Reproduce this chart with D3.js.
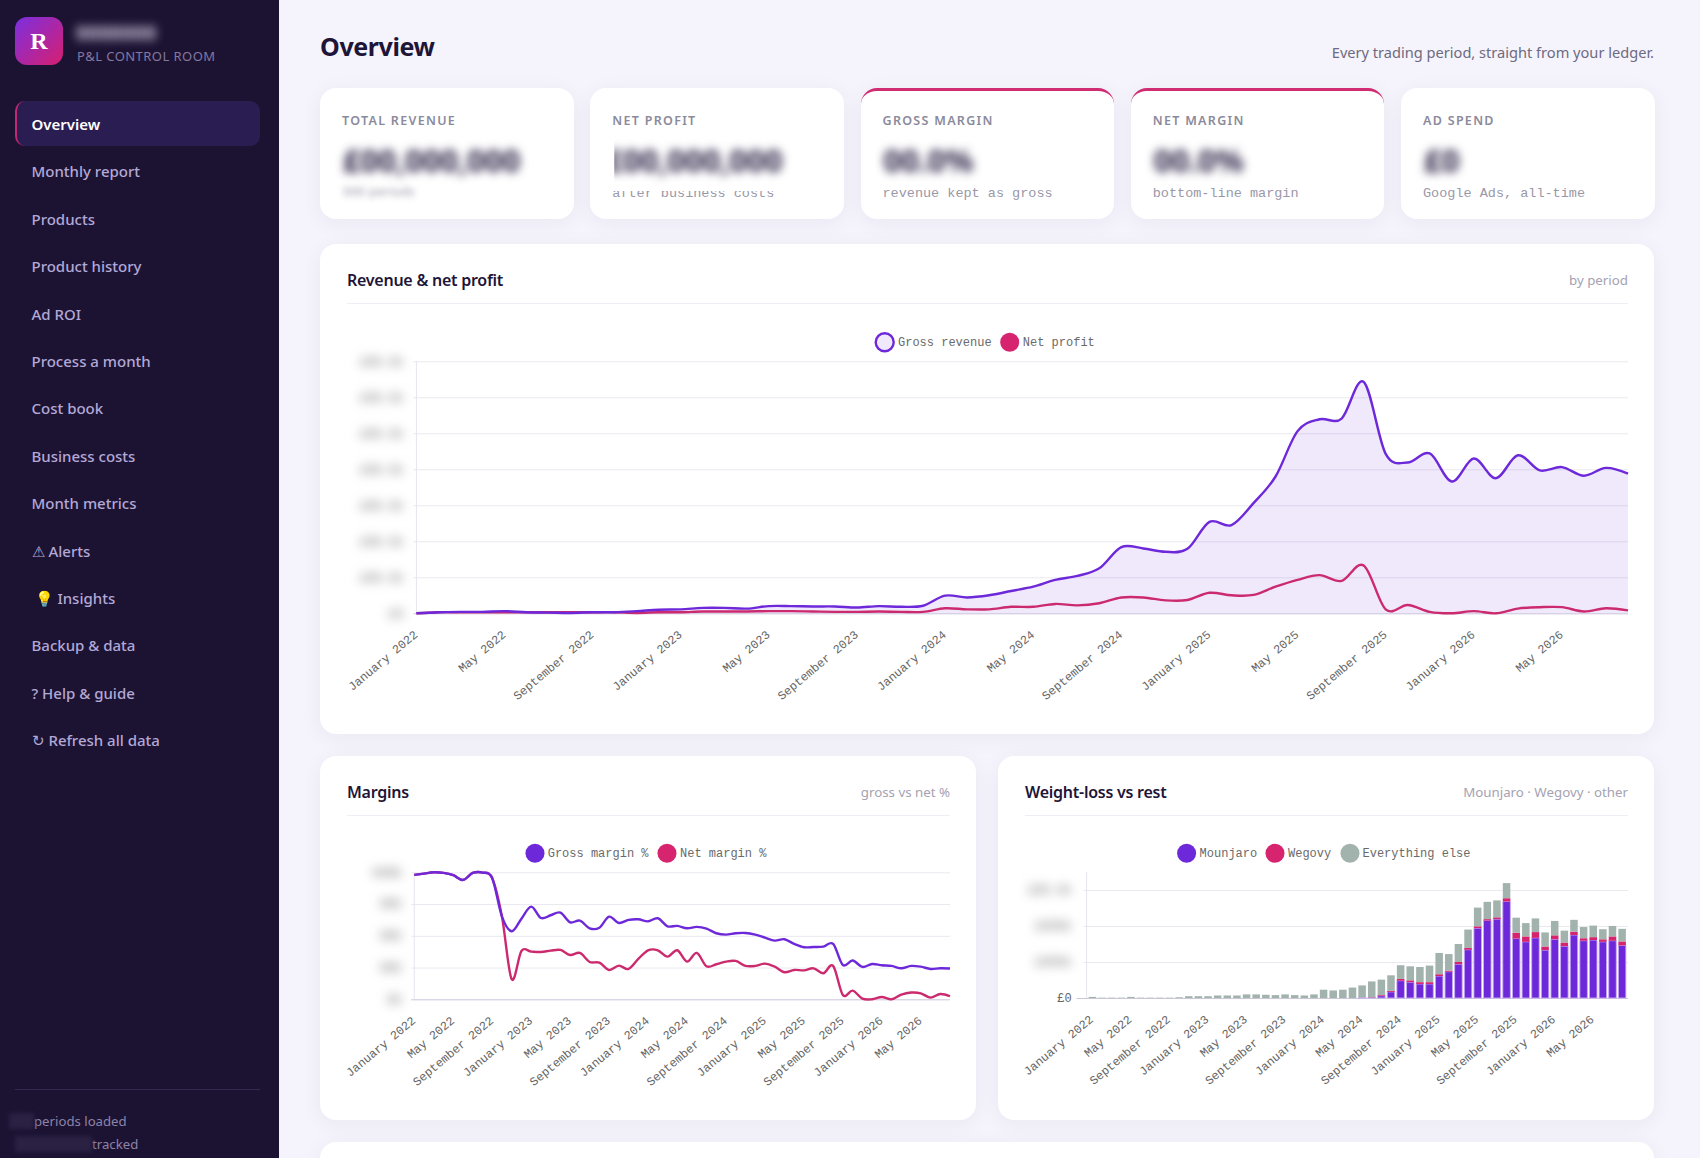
<!DOCTYPE html>
<html><head><meta charset="utf-8"><title>Overview</title>
<script src="https://cdn.jsdelivr.net/npm/d3@7"></script>
<style>
*{box-sizing:border-box}
html,body{margin:0;height:1158px;overflow:hidden;background:#f5f4fc;font-family:'Noto Sans',sans-serif;color:#1e1538}
#side{position:absolute;left:0;top:0;width:279px;height:1158px;background:#1c1333}
.logo{position:absolute;left:15px;top:17px;width:48px;height:48px;border-radius:12px;background:linear-gradient(135deg,#7b2fe0,#d81f6f);color:#fff;font:700 24px/48px 'Liberation Serif',serif;text-align:center}
.brand{position:absolute;left:76px;top:19px;font-size:20px;line-height:27px;font-weight:700;color:#cfc9dd;filter:blur(5px)}
.tag{position:absolute;left:77px;top:47px;font-size:13px;letter-spacing:.45px;color:#8378a0;line-height:18px}
.nav{position:absolute;left:31.5px;font-size:15px;font-weight:500;color:#b3a8d6;line-height:20px;white-space:nowrap}
.nav.on{color:#fff;font-weight:600}
.pill{position:absolute;left:15px;top:101px;width:245px;height:45px;border-radius:10px;background:#2a1d52;border-left:2px solid #c02a72}
.rule{position:absolute;left:15px;top:1089px;width:245px;height:1px;background:#342a50}
.foot{position:absolute;font-size:13.2px;color:#8d83a8;line-height:18px;white-space:nowrap}
.foot i{position:absolute;top:1px;height:16px;background:#2a2143;filter:blur(2px)}
h1{position:absolute;left:320px;top:26px;margin:0;font-size:25px;letter-spacing:-.4px;line-height:40px;font-weight:700;color:#1e1538}
.lede{position:absolute;right:46px;top:41px;font-size:14.6px;line-height:22px;color:#6e6a80}
.card{position:absolute;background:#fff;border-radius:16px;box-shadow:0 4px 22px rgba(40,30,90,.055)}
.kpi{top:88px;width:253.5px;height:131px}
.kpi.hot{border-top:3px solid #cf2c72}
.kpi b{position:absolute;left:22px;top:24px;font-size:12.5px;font-weight:600;letter-spacing:1.3px;color:#8b8a9b;line-height:18px}
.kpi.hot b{top:21px}
.kpi s{position:absolute;left:22px;top:97px;font:13.5px/18px 'Liberation Mono',monospace;color:#9a98a8;text-decoration:none;white-space:nowrap}
.kpi.hot s{top:94px}
.kpi u{position:absolute;left:14px;top:48px;background:#fff;text-decoration:none;padding:0 9px;font-size:31px;line-height:48px;font-weight:700;color:#2a2145;white-space:nowrap}
.kpi u span{display:block;filter:blur(5px)}
.kpi u em{display:block;font:13px/16px 'Noto Sans',sans-serif;color:#9a98a8;filter:blur(3px);margin-top:-1px}
.kpi.hot u{top:45px}
.ct{position:absolute;font-size:16px;letter-spacing:-.25px;font-weight:600;line-height:24px;color:#1e1538}
.cs{position:absolute;font-size:13.3px;line-height:20px;color:#a5a2b2;text-align:right}
.cr{position:absolute;height:1px;background:#efeef4}
svg{position:absolute;left:0;top:0}
.axis text{font-family:'Liberation Mono',monospace;font-size:12px;fill:#666}
.axis path{display:none}
.blur{filter:blur(5.5px)}
</style></head><body>
<div id="side"></div><div id="main"></div>
<svg id="plot" width="1700" height="1158"></svg>
<script>
const PERIODS=['January 2022','February 2022','March 2022','April 2022','May 2022','June 2022','July 2022','August 2022','September 2022','October 2022','November 2022','December 2022',
'January 2023','February 2023','March 2023','April 2023','May 2023','June 2023','July 2023','August 2023','September 2023','October 2023','November 2023','December 2023',
'January 2024','February 2024','March 2024','April 2024','May 2024','June 2024','July 2024','August 2024','September 2024','October 2024','November 2024','December 2024',
'January 2025','February 2025','March 2025','April 2025','May 2025','June 2025','July 2025','August 2025','September 2025','October 2025','November 2025','December 2025',
'January 2026','February 2026','March 2026','April 2026','May 2026','June 2026','July 2026','August 2026'];
const TICK_PERIODS=PERIODS.filter((d,i)=>i%4===0);

// axis labels are illegible in the picture, so values are in hundredths of one gridline step
const REVENUE=[0,3,4,4,6,3,2,1,3,3,6,10,11,15,15,13,20,20,19,19,16,20,18,21,49,44,50,62,74,93,104,125,184,180,171,179,254,245,306,380,506,539,541,643,443,419,444,366,430,375,439,397,406,382,404,388];
const NET_PROFIT=[0,3,3,3,3,3,3,3,3,3,1,3,3,5,5,5,6,6,5,4,4,5,4,4,14,11,11,18,18,26,22,28,44,44,36,37,57,50,51,74,93,106,90,133,11,23,4,0,6,0,13,17,17,5,14,8];
const REV_TICKS=[0,100,200,300,400,500,600,700];
const REV_TICK_LABELS=['£0','£00.0k','£00.0k','£00.0k','£00.0k','£00.0k','£00.0k','£00.0k'];

const GROSS_MARGIN=[98,99,100,99.5,97.7,94,99.5,99.8,95.3,65.1,53.6,63.5,73,64,66.2,68.3,60.6,62,55.9,56.4,65.1,60.1,62.5,63,61.4,63.8,57.5,57.8,55.9,57,55.7,52,50.9,52,52.2,50.9,48.6,46.2,47.3,43.6,41,41.2,41.5,43.6,27,30.5,25.5,27.8,26.8,26.3,24.4,26.3,25.7,23.9,24.4,24.2];
const NET_MARGIN=[98,99,100,99.5,97.7,94,99.5,99.8,95.3,65.1,15.8,38,37.5,37.3,38.3,38.9,34.9,36.5,29.4,28.9,23.1,26.5,23.9,31.8,38.6,38.6,33.6,38.6,29.7,36.5,26,27.6,29.7,30.2,26.3,26.3,28.1,25.7,21.3,23.1,22.8,24.4,20.5,26.3,3.4,6.8,.5,0,1.8,0,3.7,5.3,4.7,1.3,4.2,2.4];
const MARGIN_TICKS=[0,25,50,75,100];
const MARGIN_TICK_LABELS=['0%','00%','00%','00%','000%'];

const MOUNJARO=[0,0,0,0,0,0,0,0,0,0,0,0,0,0,0,0,0,0,0,0,0,0,0,0,0,0,0,0,2,1,6,17,48,44,39,39,61,73,94,134,194,215,219,268,165,156,167,133,163,144,175,159,161,156,159,146];
const WEGOVY=[0,0,0,0,0,0,0,0,0,0,0,0,0,0,0,0,0,0,0,0,0,0,0,0,0,0,0,0,0,1,2,3,5,5,5,5,5,3,6,5,5,4,5,9,16,15,16,10,11,10,9,7,8,7,12,11];
const EVERYTHING_ELSE=[3,1,1,1,3,1,1,1,1,2,5,5,5,7,7,7,10,10,9,8,10,8,7,10,23,21,23,29,33,44,43,43,38,39,42,46,59,46,50,51,52,48,47,42,42,37,38,39,40,33,33,31,32,28,29,35];
const MIX_TICKS=[0,100,200,300];
const MIX_TICK_LABELS=['£0','£000k','£000k','£00.0k'];

const NAV=['Overview','Monthly report','Products','Product history','Ad ROI','Process a month','Cost book','Business costs','Month metrics','⚠ Alerts','💡  Insights','Backup & data','? Help & guide','↻ Refresh all data'];
const KPI_LABELS=['TOTAL REVENUE','NET PROFIT','GROSS MARGIN','NET MARGIN','AD SPEND'];
const KPI_SUBS=['','after business costs','revenue kept as gross','bottom-line margin','Google Ads, all-time'];
const KPI_MASKS=['£00,000,000','£00,000,000','00.0%','00.0%','£0'];
const KPI_MASK_HEIGHT=[66,55,48,48,48];
const KPI_HOT=[false,false,true,true,false];

const PURPLE='#6d28d9',PINK='#d6246e',PINK_LINE='#cc2a6e',SAGE='#a2b3ad';

/* ---------- page chrome ---------- */
const side=d3.select('#side'), main=d3.select('#main');
side.append('div').attr('class','logo').text('R');
side.append('div').attr('class','brand').text('0000000');
side.append('div').attr('class','tag').text('P&L CONTROL ROOM');
side.append('div').attr('class','pill');
side.selectAll('.nav').data(NAV).join('div').attr('class',(d,i)=>i?'nav':'nav on')
  .style('top',(d,i)=>(114+i*47.4)+'px').style('left',(d,i)=>i===10?'34.5px':null).text(d=>d);
side.append('div').attr('class','rule');
side.append('div').attr('class','foot').style('left','34px').style('top','1112px').html('<i style="left:-25px;width:25px"></i>periods loaded');
side.append('div').attr('class','foot').style('left','92px').style('top','1135px').html('<i style="left:-77px;width:77px"></i>tracked');

main.append('h1').text('Overview');
main.append('div').attr('class','lede').text('Every trading period, straight from your ledger.');
const kpis=main.selectAll('.kpi').data(KPI_LABELS).join('div')
  .attr('class',(d,i)=>KPI_HOT[i]?'card kpi hot':'card kpi').style('left',(d,i)=>(320+i*270.25)+'px');
kpis.append('b').text(d=>d);
kpis.append('s').text((d,i)=>KPI_SUBS[i]);
const masks=kpis.append('u').style('height',(d,i)=>KPI_MASK_HEIGHT[i]+'px')
  .style('left',(d,i)=>i===1?'15px':null).style('padding',(d,i)=>i===1?'0':null);
// the net profit blur has a hard left edge in the picture
masks.append('span').style('clip-path',(d,i)=>i===1?'inset(-20px -20px -20px 9px)':null).text((d,i)=>KPI_MASKS[i]);
masks.filter((d,i)=>i===0).append('em').text('000 periods');

function panel(x,y,w,h,title,note){
  main.append('div').attr('class','card').style('left',x+'px').style('top',y+'px').style('width',w+'px').style('height',h+'px');
  if(!title) return;
  main.append('div').attr('class','ct').style('left',(x+27)+'px').style('top',(y+24)+'px').text(title);
  main.append('div').attr('class','cs').style('right',(1700-x-w+26)+'px').style('top',(y+26)+'px').text(note);
  main.append('div').attr('class','cr').style('left',(x+27)+'px').style('top',(y+59)+'px').style('width',(w-53)+'px');
}
panel(320,244,1334,490,'Revenue & net profit','by period');
panel(320,756,656,364,'Margins','gross vs net %');
panel(998,756,656,364,'Weight-loss vs rest','Mounjaro · Wegovy · other');
panel(320,1142,1334,200);

/* ---------- shared chart bits ---------- */
const svg=d3.select('#plot');
function legend(items){
  const g=svg.append('g').selectAll('g').data(items).join('g');
  g.append('circle').attr('cx',d=>d.cx).attr('cy',d=>d.cy).attr('r',d=>d.hollow?9:9.5)
    .attr('fill',d=>d.hollow?'#efe9fb':d.color).attr('stroke',d=>d.hollow?d.color:'none').attr('stroke-width',2.4);
  g.append('text').attr('x',d=>d.tx).attr('y',d=>d.cy+4).style('font',"12px 'Liberation Mono',monospace").attr('fill','#6a6a6a').text(d=>d.label);
}
function axes(x,y,ticks,labels,width,sharpZero){
  const base=y.range()[0];
  const gx=svg.append('g').attr('class','axis').attr('transform',`translate(0,${base})`)
    .call(d3.axisBottom(x).tickValues(TICK_PERIODS).tickSize(0));
  gx.selectAll('text').attr('text-anchor','end').attr('dy',0).attr('y',0)
    .attr('transform','translate(1.5,22.5) rotate(-40)');
  const gy=svg.append('g').attr('class','axis').attr('transform',`translate(${x.range()[0]},0)`)
    .call(d3.axisLeft(y).tickValues(ticks).tickFormat((d,i)=>labels[i]).tickSize(-width).tickPadding(13));
  gy.selectAll('line').attr('x1',d=>sharpZero&&d===0?-10:-3).attr('stroke',d=>d===0?'#cbc6da':'#e9e8ef');
  gy.selectAll('text').attr('x',sharpZero?-15:-13).filter(d=>!(sharpZero&&d===0)).attr('class','blur');
  svg.append('line').attr('x1',x.range()[0]).attr('x2',x.range()[0]).attr('y1',y.range()[1]).attr('y2',base).attr('stroke','#e6e5ed');
}

/* ---------- revenue & net profit ---------- */
(function(){
  const x=d3.scalePoint().domain(PERIODS).range([416.4,1628]);
  const y=d3.scaleLinear().domain([0,700]).range([613.3,361.3]);
  axes(x,y,REV_TICKS,REV_TICK_LABELS,1628-416.4,false);
  const curve=d3.curveCardinal.tension(0);
  const line=d3.line().x((d,i)=>x(PERIODS[i])).y(d=>y(d)).curve(curve);
  const area=d3.area().x((d,i)=>x(PERIODS[i])).y0(y(0)).y1(d=>y(d)).curve(curve);
  svg.append('path').attr('d',area(REVENUE)).attr('fill',PURPLE).attr('fill-opacity',.1);
  svg.append('path').attr('d',line(NET_PROFIT)).attr('fill','none').attr('stroke',PINK_LINE).attr('stroke-width',2.4);
  svg.append('path').attr('d',line(REVENUE)).attr('fill','none').attr('stroke',PURPLE).attr('stroke-width',2.4);
  legend([{label:'Gross revenue',color:PURPLE,hollow:true,cx:884.7,cy:342.3,tx:898},{label:'Net profit',color:PINK,cx:1009.7,cy:342.3,tx:1022.8}]);
})();

/* ---------- margins ---------- */
(function(){
  const x=d3.scalePoint().domain(PERIODS).range([414.3,950]);
  const y=d3.scaleLinear().domain([0,100]).range([999.3,872.3]);
  axes(x,y,MARGIN_TICKS,MARGIN_TICK_LABELS,950-414.3,false);
  const line=d3.line().x((d,i)=>x(PERIODS[i])).y(d=>y(d)).curve(d3.curveCardinal.tension(0));
  svg.append('path').attr('d',line(NET_MARGIN)).attr('fill','none').attr('stroke',PINK_LINE).attr('stroke-width',2.4);
  svg.append('path').attr('d',line(GROSS_MARGIN)).attr('fill','none').attr('stroke',PURPLE).attr('stroke-width',2.4);
  legend([{label:'Gross margin %',color:PURPLE,cx:535,cy:853.3,tx:547.7},{label:'Net margin %',color:PINK,cx:667,cy:853.3,tx:680}]);
})();

/* ---------- weight-loss vs rest ---------- */
(function(){
  const x=d3.scaleBand().domain(PERIODS).range([1086.6,1628]).padding(.22);
  const y=d3.scaleLinear().domain([0,349]).range([998,872.3]);
  axes(x,y,MIX_TICKS,MIX_TICK_LABELS,1628-1086.6,true);
  const rows=PERIODS.map((p,i)=>({period:p,mounjaro:MOUNJARO[i],wegovy:WEGOVY[i],other:EVERYTHING_ELSE[i]}));
  const stack=d3.stack().keys(['mounjaro','wegovy','other'])(rows);
  const cols={mounjaro:PURPLE,wegovy:PINK,other:SAGE};
  // only the mounjaro bars carry the pale outline
  svg.append('g').selectAll('g').data(stack).join('g').attr('fill',d=>cols[d.key])
    .attr('stroke',d=>d.key==='mounjaro'?'#c7abf2':'none').attr('stroke-width',.9)
    .selectAll('rect').data(d=>d.filter(s=>s[1]>s[0])).join('rect')
    .attr('x',d=>x(d.data.period)).attr('width',x.bandwidth())
    .attr('y',d=>y(d[1])).attr('height',d=>y(d[0])-y(d[1]));
  legend([{label:'Mounjaro',color:PURPLE,cx:1186.6,cy:853.3,tx:1199.6},{label:'Wegovy',color:PINK,cx:1275,cy:853.3,tx:1288},{label:'Everything else',color:SAGE,cx:1350,cy:853.3,tx:1362.5}]);
})();
</script></body></html>
